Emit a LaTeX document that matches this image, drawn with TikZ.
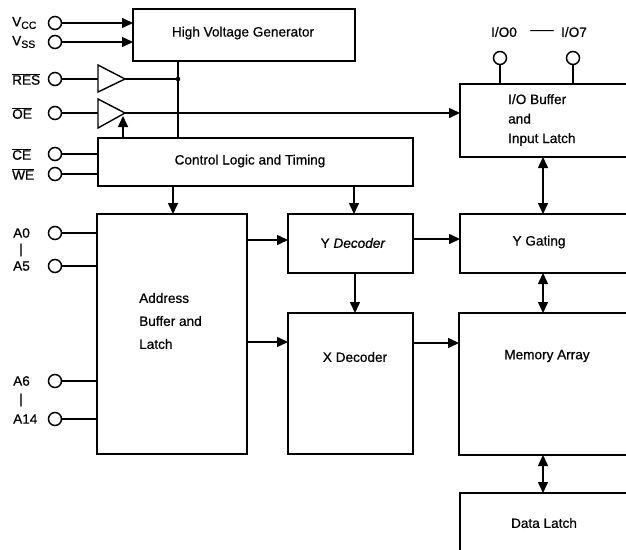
\documentclass[tikz,border=0pt]{standalone}
\usepackage{fontspec}
\setmainfont{Liberation Sans}[FakeBold=0.6]
\usetikzlibrary{arrows.meta}
\begin{document}
\begin{tikzpicture}[x=1pt,y=-1pt,
  box/.style={draw, line width=1.9pt, inner sep=0pt, outer sep=0pt, anchor=north west},
  pin/.style={draw, circle, line width=1.5pt, minimum size=13pt, inner sep=0pt, outer sep=0pt},
  txt/.style={inner sep=0pt, font=\fontsize{13.6}{15}\selectfont},
  lbl/.style={txt, anchor=west},
  wire/.style={line width=1.5pt},
  arr/.style={wire, -{Triangle[length=11pt,width=10pt]}},
  darr/.style={wire, {Triangle[length=11pt,width=10pt]}-{Triangle[length=11pt,width=10pt]}},
  buf/.style={line width=1.4pt, line join=miter}]
\path[use as bounding box] (0,0) rectangle (626,549);
\clip (0,0) rectangle (626,549);

% boxes
\node[box, minimum width=222pt, minimum height=52pt] (hvg) at (133,9) {};
\node[box, minimum width=315pt, minimum height=48pt] (ctl) at (98,138) {};
\node[box, minimum width=150pt, minimum height=240pt] (addr) at (97,214) {};
\node[box, minimum width=125pt, minimum height=59pt] (ydec) at (288,214) {};
\node[box, minimum width=125pt, minimum height=141pt] (xdec) at (288,313) {};
\node[box, minimum width=220pt, minimum height=73pt] (iobuf) at (460,84) {};
\node[box, minimum width=220pt, minimum height=59pt] (ygate) at (460,214) {};
\node[box, minimum width=221pt, minimum height=142pt] (mem) at (459,313) {};
\node[box, minimum width=220pt, minimum height=100pt] (dlatch) at (460,493) {};

% box texts
\node[txt] (hvgt) at (243,33) {High Voltage Generator};
\node[txt] (ctlt) at (250,161) {Control Logic and Timing};
\node[txt] (ydect) at (353,243) {Y \textit{Decoder}};
\node[txt] (xdect) at (355,357) {X Decoder};
\node[txt] (ygatet) at (539,242) {Y Gating};
\node[txt] (memt) at (547,356) {Memory Array};
\node[txt] (dlatcht) at (544,523) {Data Latch};
\node[txt, anchor=west, align=left, font=\fontsize{13.6}{19.5}\selectfont] (iobuft) at (508,120) {I/O Buffer\\and\\Input Latch};
\node[txt, anchor=west, align=left, font=\fontsize{13.6}{23}\selectfont] (addrt) at (139,321) {Address\\Buffer and\\Latch};

% pins
\node[pin] (vcc) at (55,23) {};
\node[pin] (vss) at (55,42) {};
\node[pin] (res) at (55,79) {};
\node[pin] (oe) at (55,113) {};
\node[pin] (ce) at (55,154) {};
\node[pin] (we) at (55,174) {};
\node[pin] (a0) at (55,233) {};
\node[pin] (a5) at (55,266) {};
\node[pin] (a6) at (55,381) {};
\node[pin] (a14) at (55,419) {};
\node[pin] (io0) at (500,58) {};
\node[pin] (io7) at (573,58) {};

% pin labels
\node[lbl] (vccl) at (12,23) {V\raisebox{-0.35ex}{\fontsize{10.5}{10}\selectfont CC}};
\node[lbl] (vssl) at (12,42) {V\raisebox{-0.35ex}{\fontsize{10.5}{10}\selectfont SS}};
\node[lbl] (resl) at (12,79) {$\overline{\mbox{RES}}$};
\node[lbl] (oel) at (12,113) {$\overline{\mbox{OE}}$};
\node[lbl] (cel) at (12,154) {$\overline{\mbox{CE}}$};
\node[lbl] (wel) at (12,174) {$\overline{\mbox{WE}}$};
\node[lbl] (a0l) at (13,233) {A0};
\node[txt] (bar1) at (21,250) {|};
\node[lbl] (a5l) at (13,266) {A5};
\node[lbl] (a6l) at (13,381) {A6};
\node[txt] (bar2) at (21,400) {|};
\node[lbl] (a14l) at (13,419) {A14};
\node[txt] (io0l) at (504,32) {I/O0};
\node[txt] (iodash) at (542,32) {\scalebox{1.7}[1]{—}};
\node[txt] (io7l) at (574,32) {I/O7};

% buffers
\coordinate (resin) at (98,79);
\coordinate (resout) at (125,79);
\coordinate (oein) at (98,113);
\coordinate (oeout) at (125,113);
\coordinate (junc) at (178,79);
\draw[buf] (98,65) -- (resout) -- (98,92) -- cycle;
\draw[buf] (98,99) -- (oeout) -- (98,128) -- cycle;

% connectors
\draw[arr] (vcc) -- (vcc -| hvg.west);
\draw[arr] (vss) -- (vss -| hvg.west);
\draw[wire] (res) -- (resin);
\draw[wire] (resout) -- (junc);
\fill (junc) circle (2.3pt);
\draw[wire] (hvg.south -| junc) -- (ctl.north -| junc);
\draw[wire] (oe) -- (oein);
\draw[arr] (oeout) -- (oeout -| iobuf.west);
\draw[arr] (ctl.north -| 123,0) -- (123,116);
\draw[wire] (ce) -- (ce -| ctl.west);
\draw[wire] (we) -- (we -| ctl.west);
\draw[arr] (ctl.south -| 173,0) -- (addr.north -| 173,0);
\draw[arr] (ctl.south -| 354,0) -- (ydec.north -| 354,0);
\draw[wire] (a0) -- (a0 -| addr.west);
\draw[wire] (a5) -- (a5 -| addr.west);
\draw[wire] (a6) -- (a6 -| addr.west);
\draw[wire] (a14) -- (a14 -| addr.west);
\draw[arr] (addr.east |- 0,240) -- (ydec.west |- 0,240);
\draw[arr] (addr.east |- 0,342) -- (xdec.west |- 0,342);
\draw[arr] (ydec.east |- 0,239) -- (ygate.west |- 0,239);
\draw[arr] (ydec.south -| 355,0) -- (xdec.north -| 355,0);
\draw[arr] (xdec.east |- 0,343) -- (mem.west |- 0,343);
\draw[wire] (io0) -- (io0 |- iobuf.north);
\draw[wire] (io7) -- (io7 |- iobuf.north);
\draw[darr] (iobuf.south -| 543,0) -- (ygate.north -| 543,0);
\draw[darr] (ygate.south -| 543,0) -- (mem.north -| 543,0);
\draw[darr] (mem.south -| 543,0) -- (dlatch.north -| 543,0);
\end{tikzpicture}
\end{document}
